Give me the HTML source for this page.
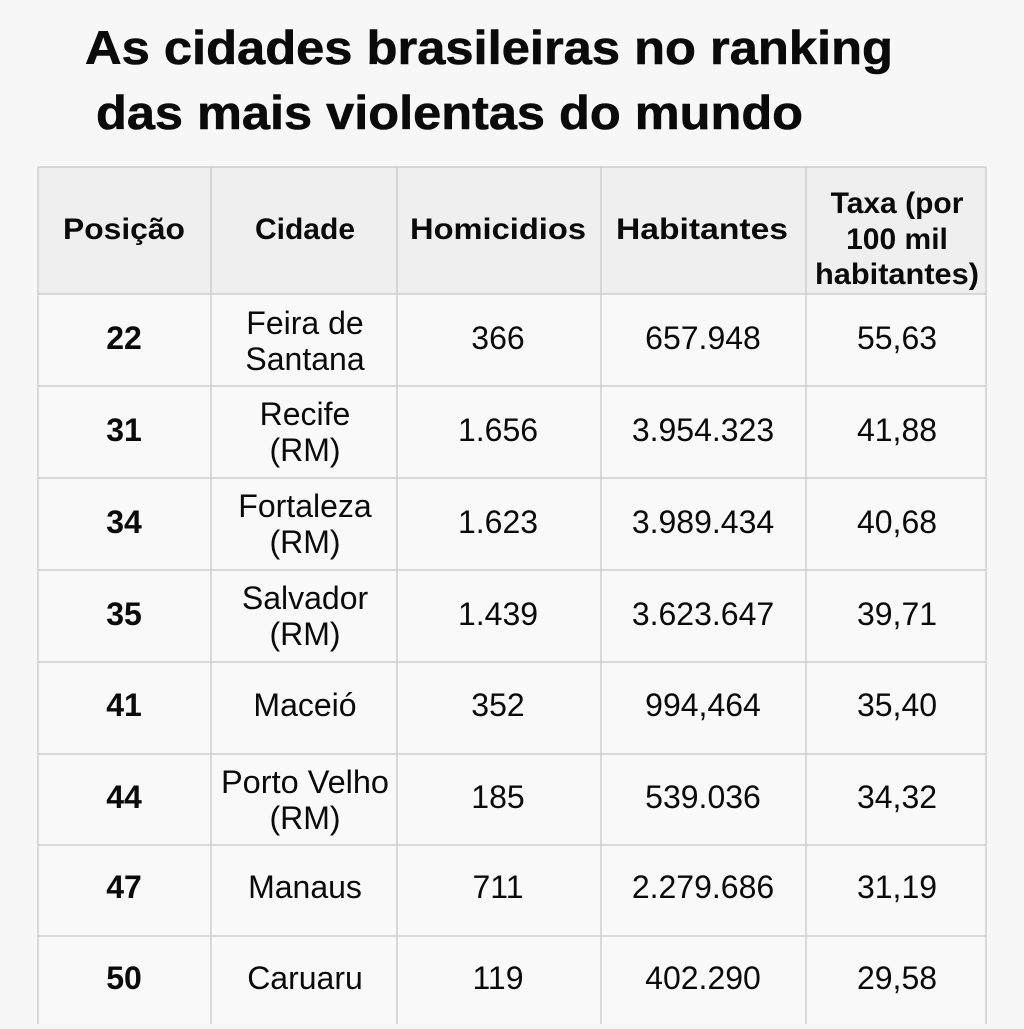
<!DOCTYPE html>
<html><head><meta charset="utf-8"><style>html,body{margin:0;padding:0;background:#f7f7f7}</style></head>
<body>
<svg width="1024" height="1024" xmlns="http://www.w3.org/2000/svg" font-family="Liberation Sans, sans-serif">
<rect width="1024" height="1024" fill="#f7f7f7"/>
<text x="85" y="64" font-size="47" font-weight="bold" fill="#0a0a0a" stroke="#0a0a0a" stroke-width="0.6" textLength="808" lengthAdjust="spacingAndGlyphs">As cidades brasileiras no ranking</text>
<text x="96" y="129" font-size="47" font-weight="bold" fill="#0a0a0a" stroke="#0a0a0a" stroke-width="0.6" textLength="707" lengthAdjust="spacingAndGlyphs">das mais violentas do mundo</text>
<rect x="38" y="167" width="948" height="127" fill="#efefef"/>
<rect x="38" y="294" width="948" height="730" fill="#f9f9f9"/>
<g stroke="#c8c8c8" stroke-width="1.3" fill="none">
<line x1="38" y1="167" x2="986" y2="167"/>
<line x1="38" y1="294" x2="986" y2="294"/>
<line x1="38" y1="386" x2="986" y2="386"/>
<line x1="38" y1="478" x2="986" y2="478"/>
<line x1="38" y1="570" x2="986" y2="570"/>
<line x1="38" y1="662" x2="986" y2="662"/>
<line x1="38" y1="754" x2="986" y2="754"/>
<line x1="38" y1="845" x2="986" y2="845"/>
<line x1="38" y1="936" x2="986" y2="936"/>
<line x1="38" y1="167" x2="38" y2="1024"/>
<line x1="211" y1="167" x2="211" y2="1024"/>
<line x1="397" y1="167" x2="397" y2="1024"/>
<line x1="601" y1="167" x2="601" y2="1024"/>
<line x1="806" y1="167" x2="806" y2="1024"/>
<line x1="986" y1="167" x2="986" y2="1024"/>
</g>
<g font-size="30" font-weight="bold" fill="#0a0a0a" text-anchor="middle">
<text x="124" y="239" textLength="122" lengthAdjust="spacingAndGlyphs">Posição</text>
<text x="305" y="239">Cidade</text>
<text x="498" y="239" textLength="176" lengthAdjust="spacingAndGlyphs">Homicidios</text>
<text x="702" y="239" textLength="172" lengthAdjust="spacingAndGlyphs">Habitantes</text>
<text x="897" y="213">Taxa (por</text>
<text x="897" y="249">100 mil</text>
<text x="897" y="284" textLength="164" lengthAdjust="spacingAndGlyphs">habitantes)</text>
</g>
<g font-size="32" font-weight="bold" fill="#0a0a0a" text-anchor="middle">
<text x="124" y="349">22</text><text x="124" y="441">31</text><text x="124" y="533">34</text><text x="124" y="625">35</text>
<text x="124" y="716">41</text><text x="124" y="808">44</text><text x="124" y="898">47</text><text x="124" y="989">50</text>
</g>
<g font-size="32" fill="#0a0a0a" text-anchor="middle">
<text x="305" y="334">Feira de</text><text x="305" y="370">Santana</text>
<text x="305" y="425">Recife</text><text x="305" y="461">(RM)</text>
<text x="305" y="517">Fortaleza</text><text x="305" y="553">(RM)</text>
<text x="305" y="609">Salvador</text><text x="305" y="645">(RM)</text>
<text x="305" y="716">Maceió</text>
<text x="305" y="793" textLength="168" lengthAdjust="spacingAndGlyphs">Porto Velho</text><text x="305" y="829">(RM)</text>
<text x="305" y="898">Manaus</text>
<text x="305" y="989">Caruaru</text>
<text x="498" y="349">366</text><text x="498" y="441">1.656</text><text x="498" y="533">1.623</text><text x="498" y="625">1.439</text>
<text x="498" y="716">352</text><text x="498" y="808">185</text><text x="498" y="898">711</text><text x="498" y="989">119</text>
<text x="703" y="349">657.948</text><text x="703" y="441">3.954.323</text><text x="703" y="533">3.989.434</text><text x="703" y="625">3.623.647</text>
<text x="703" y="716">994,464</text><text x="703" y="808">539.036</text><text x="703" y="898">2.279.686</text><text x="703" y="989">402.290</text>
<text x="897" y="349">55,63</text><text x="897" y="441">41,88</text><text x="897" y="533">40,68</text><text x="897" y="625">39,71</text>
<text x="897" y="716">35,40</text><text x="897" y="808">34,32</text><text x="897" y="898">31,19</text><text x="897" y="989">29,58</text>
</g>
</svg>
</body></html>
